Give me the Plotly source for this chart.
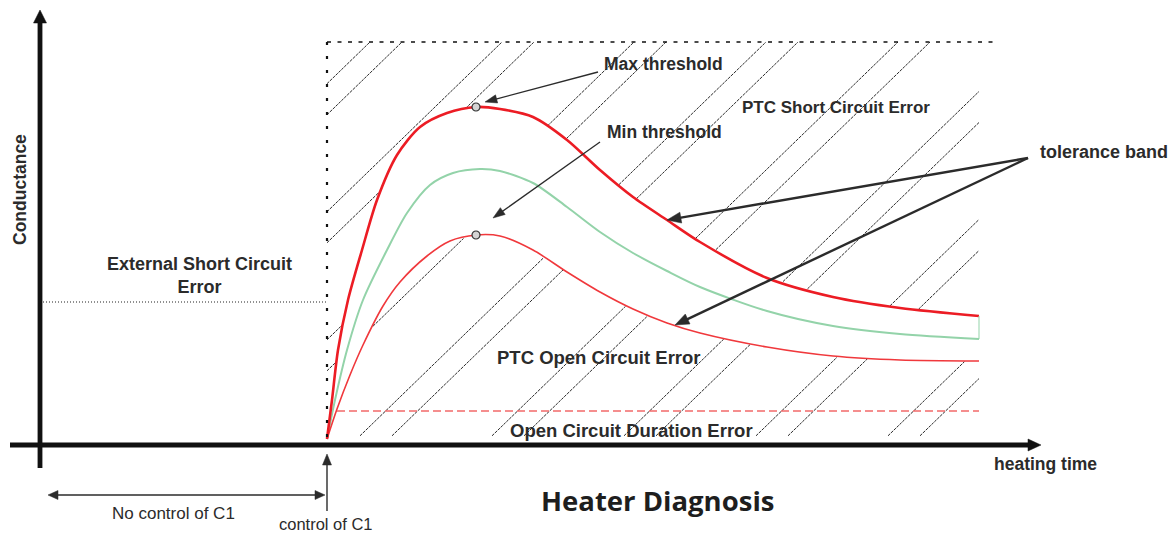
import numpy as np
import plotly.graph_objects as go

# Heating time (t) and conductance (g) samples for the three characteristic curves
max_t = [287, 292, 298, 308, 322, 337, 357, 380, 407, 436, 460, 493, 527, 560, 593, 627, 660, 727, 793, 860, 939]
max_g = [6, 45, 95, 145, 195, 245, 290, 318, 332, 338, 336, 328, 305, 275, 248, 225, 203, 167, 148, 137, 129]
nom_t = [287, 295, 307, 323, 347, 367, 390, 413, 440, 460, 493, 527, 560, 593, 627, 660, 727, 793, 860, 939]
nom_g = [6, 45, 95, 145, 195, 232, 260, 272, 276, 274, 262, 238, 213, 192, 174, 158, 134, 119, 111, 106]
min_t = [287, 297, 310, 323, 343, 360, 387, 410, 436, 460, 493, 527, 560, 593, 627, 660, 727, 793, 860, 939]
min_g = [6, 36, 70, 100, 139, 163, 189, 204, 210, 209, 195, 173, 153, 136, 122, 112, 98, 89, 85, 84]

# Diagnostic levels and time marks
control_start = 287          # start of C1 control
ext_short_level = 143        # external short circuit level
open_duration_level = 34     # open circuit duration threshold
duration_start = 297
region_top = 403             # upper limit of the diagnostic window
region_right = 953
hatch_right = 939
hatch_bottom = 9

RED = "#ec1c24"
RED_THIN = "#f0383c"
GREEN = "#93d3a9"
INK = "#2b2b2b"

fig = go.Figure()
shapes = []
annotations = []


def line(x0, y0, x1, y1, color, width, dash=None, layer="above"):
    shapes.append(dict(type="line", xref="x", yref="y", x0=x0, y0=y0, x1=x1, y1=y1, layer=layer,
                       line=dict(color=color, width=width, dash=dash)))


def head(tail, tip, length, half, color):
    tx, ty = tip
    dx, dy = tip[0] - tail[0], tip[1] - tail[1]
    n = np.hypot(dx, dy)
    ux, uy = dx / n, dy / n
    bx, by = tx - ux * length, ty - uy * length
    px, py = -uy * half, ux * half
    path = f"M {tx},{ty} L {bx + px},{by + py} L {bx - px},{by - py} Z"
    shapes.append(dict(type="path", xref="x", yref="y", path=path,
                       fillcolor=color, line=dict(color=color, width=0.5)))


def arrow(tail, tip, width, length, half, color=INK, both=False):
    dx, dy = tip[0] - tail[0], tip[1] - tail[1]
    n = np.hypot(dx, dy)
    ux, uy = dx / n, dy / n
    end = (tip[0] - ux * length * 0.7, tip[1] - uy * length * 0.7)
    start = (tail[0] + ux * length * 0.7, tail[1] + uy * length * 0.7) if both else tail
    line(start[0], start[1], end[0], end[1], color, width)
    head(tail, tip, length, half, color)
    if both:
        head(tip, tail, length, half, color)


# Hatching of the error regions outside the tolerance band: pairs of "/" strokes,
# each stroke split where it crosses the band between the max and min thresholds
slope = 0.97
xs = np.arange(control_start, hatch_right + 0.25, 0.5)
up = np.interp(xs, max_t, max_g)
lo = np.interp(xs, min_t, min_g)
for k in range(8):
    for off in (0, 32):
        x_top = 330 + 132 * k + off
        ys = region_top - (x_top - xs) * slope
        keep = (ys >= hatch_bottom) & (ys <= region_top) & ~((ys <= up + 0.5) & (ys >= lo - 0.5))
        idx = np.flatnonzero(keep)
        if idx.size == 0:
            continue
        runs = np.split(idx, np.flatnonzero(np.diff(idx) > 1) + 1)
        for r in runs:
            if r.size < 2:
                continue
            line(float(xs[r[0]]), float(ys[r[0]]), float(xs[r[-1]]), float(ys[r[-1]]),
                 "#2a2a2a", 1, "3px,1px", layer="below")

# Threshold curves
SPL = dict(shape="spline", smoothing=0.8)
fig.add_trace(go.Scatter(x=nom_t, y=nom_g, mode="lines", line=dict(color=GREEN, width=2, **SPL)))
fig.add_trace(go.Scatter(x=min_t, y=min_g, mode="lines", line=dict(color=RED_THIN, width=1.6, **SPL)))
fig.add_trace(go.Scatter(x=max_t, y=max_g, mode="lines", line=dict(color=RED, width=2.6, **SPL)))
line(nom_t[-1], nom_g[-1], max_t[-1], max_g[-1], GREEN, 1)

# Peak markers of the max and min thresholds
i_max = int(np.argmax(max_g))
i_min = int(np.argmax(min_g))
fig.add_trace(go.Scatter(x=[max_t[i_max], min_t[i_min]], y=[max_g[i_max], min_g[i_min]], mode="markers",
                         marker=dict(size=8, color="#d4d4d4", line=dict(color="#333333", width=1.2))))

# Open circuit duration threshold
line(duration_start, open_duration_level, max_t[-1], open_duration_level, "#f26a6a", 1.6, "8px,4px")

# Diagnostic window border
line(control_start, region_top, region_right, region_top, "#111111", 1.5, "4px,6.5px")
line(control_start, region_top, control_start, 4, "#111111", 2.2, "3px,11px")
# External short circuit level
line(3, ext_short_level, control_start, ext_short_level, "#222222", 1.2, "1px,2px")

# Axes
line(0, -23, 0, 424, "#111111", 4.8)
head((0, 0), (0, 435), 13, 6.5, "#111111")
line(-30, 0, 990, 0, "#111111", 4.8)
head((0, 0), (1001, 0), 13, 6, "#111111")

# Callout arrows
arrow((558, 373), (445, 343), 1.3, 12, 4.2)
arrow((560, 303), (453, 227), 1.3, 12, 4.2)
arrow((988, 287), (627, 225), 2.4, 14, 5.5)
arrow((988, 287), (635, 120), 2.4, 14, 5.5)
arrow((8, -50), (285, -50), 1.4, 10, 4.5, both=True)
arrow((control_start, -66), (control_start, -9), 1.4, 11, 4.5)


def bold(size):
    return dict(family="Liberation Sans", size=size, color=INK, weight=700)


def text(x, y, s, font, xanchor="left", angle=0):
    annotations.append(dict(x=x, y=y, xref="x", yref="y", text=s, showarrow=False,
                            xanchor=xanchor, yanchor="middle", font=font, textangle=angle))


text(562, 381, "Max threshold", bold(17.5))
text(565, 313, "Min threshold", bold(17.5))
text(700, 338, "PTC Short Circuit Error", bold(17))
text(998, 293, "tolerance band", bold(18))
text(455, 88, "PTC Open Circuit Error", bold(18.5))
text(468, 15, "Open Circuit Duration Error", bold(18.5))
text(159, 170, "External Short Circuit<br>Error", bold(18), xanchor="center")
text(-20, 255, "Conductance", bold(17.5), xanchor="center", angle=-90)
text(952, -19, "heating time", bold(17.5))
text(133, -68, "No control of C1", dict(family="Liberation Sans", size=17, color=INK), xanchor="center")
text(286, -79, "control of C1", dict(family="Liberation Sans", size=16.5, color=INK), xanchor="center")
text(617, -55, "Heater Diagnosis", dict(family="Open Sans", size=27.5, color="#1e1e1e", weight=700),
     xanchor="center")

fig.update_layout(
    width=1172, height=533,
    margin=dict(l=0, r=0, t=0, b=0),
    paper_bgcolor="white", plot_bgcolor="white",
    showlegend=False,
    shapes=shapes, annotations=annotations,
    xaxis=dict(range=[-40, 1132], visible=False, fixedrange=True),
    yaxis=dict(range=[-88, 445], visible=False, fixedrange=True),
)

fig.write_html("out.html")
